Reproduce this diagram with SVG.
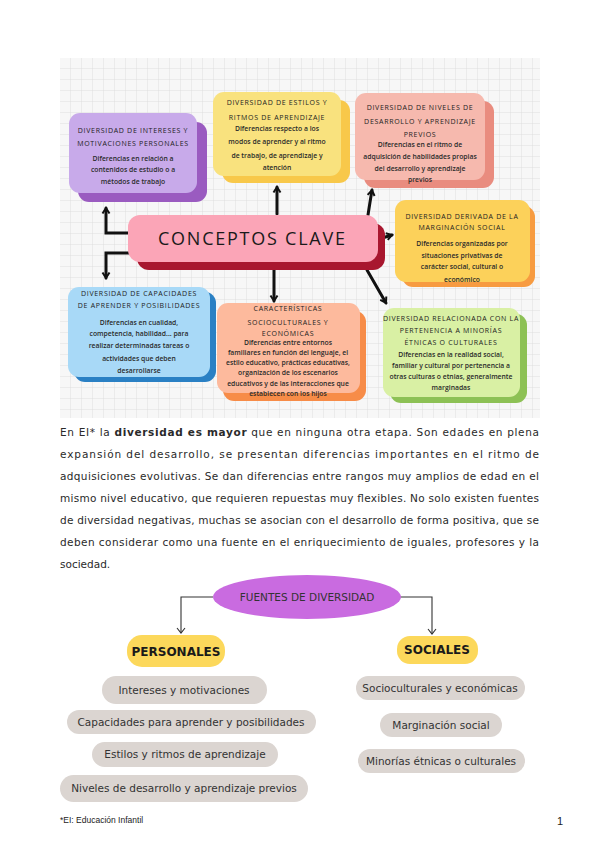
<svg xmlns="http://www.w3.org/2000/svg" width="600" height="848" viewBox="0 0 600 848">
<defs>
<pattern id="grid" x="60" y="58" width="11" height="11" patternUnits="userSpaceOnUse">
<rect width="11" height="11" fill="#f7f7f7"/>
<path d="M11 0 V11 M0 11 H11" stroke="#d8d8d8" stroke-width="0.8" fill="none"/>
</pattern>
<marker id="ah" markerUnits="userSpaceOnUse" markerWidth="10" markerHeight="10" refX="7" refY="5" orient="auto">
<path d="M1.5,1.5 L7,5 L1.5,8.5" stroke="#111" stroke-width="2" fill="none" stroke-linejoin="miter"/>
</marker>
<marker id="ah2" markerUnits="userSpaceOnUse" markerWidth="10" markerHeight="10" refX="6" refY="5" orient="auto">
<path d="M1,1 L6,5 L1,9" stroke="#333" stroke-width="1.1" fill="none"/>
</marker>
</defs>
<style>
.t{font-family:"Open Sans","DejaVu Sans",sans-serif;font-size:7px;letter-spacing:0.7px;fill:#222;text-anchor:middle}
.b{font-family:"Open Sans","DejaVu Sans",sans-serif;font-size:6.8px;font-weight:600;fill:#2a2a2a;text-anchor:middle}
.p{font-family:"DejaVu Sans",sans-serif;font-size:10.5px;fill:#2a2a2a}
.pill{fill:#dbd5d1}
.pt{font-family:"DejaVu Sans",sans-serif;font-size:10.5px;fill:#333;text-anchor:middle}
.cat{fill:#fcd85b}
.ct{font-family:"DejaVu Sans",sans-serif;font-size:12px;font-weight:bold;fill:#1a1a1a;text-anchor:middle}
.ar{stroke:#111;stroke-width:3;fill:none;stroke-linecap:round;marker-end:url(#ah)}
.ar2{stroke:#333;stroke-width:1.1;fill:none;marker-end:url(#ah2)}
</style>
<rect width="600" height="848" fill="#ffffff"/>
<rect x="60" y="58" width="480" height="360" fill="url(#grid)"/>

<g id="connectors">
<path class="ar" d="M277,214 L277,187"/>
<path class="ar" d="M274,262 L274,301"/>
<path class="ar" d="M137,233 L106,233 L106,208"/>
<path class="ar" d="M137,253 L106,253 L106,278"/>
<path class="ar" d="M368,215 Q370,202 372,190"/>
<path class="ar" d="M366,243 L392,235"/>
<path class="ar" d="M367,270 L386,303"/>
<path class="ar2" d="M213,597 L181,597 L181,633"/>
<path class="ar2" d="M400,597 L432,597 L432,634"/>
</g>

<g id="intereses">
<rect x="78" y="122" width="129" height="80" rx="11" fill="#9a5bc0"/>
<rect x="69" y="113" width="128" height="80" rx="11" fill="#c8aaea"/>
<text class="t" x="133" y="133">DIVERSIDAD DE INTERESES Y</text>
<text class="t" x="133" y="146">MOTIVACIONES PERSONALES</text>
<text class="b" x="133" y="161">Diferencias en relación a</text>
<text class="b" x="133" y="172">contenidos de estudio o a</text>
<text class="b" x="133" y="184">métodos de trabajo</text>
</g>

<g id="estilos">
<rect x="222" y="100" width="128" height="83" rx="11" fill="#f8c84a"/>
<rect x="213" y="92" width="128" height="84" rx="11" fill="#f9e27e"/>
<text class="t" x="277" y="105">DIVERSIDAD DE ESTILOS Y</text>
<text class="t" x="277" y="120">RITMOS DE APRENDIZAJE</text>
<text class="b" x="277" y="131">Diferencias respecto a los</text>
<text class="b" x="277" y="144">modos de aprender y al ritmo</text>
<text class="b" x="277" y="158">de trabajo, de aprendizaje y</text>
<text class="b" x="277" y="170">atención</text>
</g>

<g id="niveles">
<rect x="364" y="101" width="130" height="87" rx="11" fill="#e98c7f"/>
<rect x="355" y="93" width="130" height="87" rx="11" fill="#f6b9ae"/>
<text class="t" x="420" y="110">DIVERSIDAD DE NIVELES DE</text>
<text class="t" x="420" y="124">DESARROLLO Y APRENDIZAJE</text>
<text class="t" x="420" y="137">PREVIOS</text>
<text class="b" x="420" y="147">Diferencias en el ritmo de</text>
<text class="b" x="420" y="159">adquisición de habilidades propias</text>
<text class="b" x="420" y="171">del desarrollo y aprendizaje</text>
<text class="b" x="420" y="182">previos</text>
</g>

<g id="conceptos">
<rect x="137" y="223" width="248" height="47" rx="12" fill="#a8172f"/>
<rect x="128" y="215" width="250" height="47" rx="12" fill="#fba5b7"/>
<text x="253" y="245" font-family="Open Sans, DejaVu Sans, sans-serif" font-size="18" letter-spacing="3" fill="#1a1a1a" text-anchor="middle" textLength="190" lengthAdjust="spacing">CONCEPTOS CLAVE</text>
</g>

<g id="marginacion">
<rect x="402" y="206" width="133" height="81" rx="11" fill="#f79b41"/>
<rect x="395" y="200" width="135" height="82" rx="11" fill="#fcd15a"/>
<text class="t" x="462" y="219">DIVERSIDAD DERIVADA DE LA</text>
<text class="t" x="462" y="230">MARGINACIÓN SOCIAL</text>
<text class="b" x="462" y="246">Diferencias organizadas por</text>
<text class="b" x="462" y="258">situaciones privativas de</text>
<text class="b" x="462" y="269">carácter social, cultural o</text>
<text class="b" x="462" y="282">económico</text>
</g>

<g id="capacidades">
<rect x="74" y="292" width="142" height="90" rx="11" fill="#2a80c4"/>
<rect x="68" y="287" width="142" height="90" rx="11" fill="#a8d9f7"/>
<text class="t" x="139" y="296">DIVERSIDAD DE CAPACIDADES</text>
<text class="t" x="139" y="308">DE APRENDER Y POSIBILIDADES</text>
<text class="b" x="139" y="325">Diferencias en cualidad,</text>
<text class="b" x="139" y="336">competencia, habilidad... para</text>
<text class="b" x="139" y="348">realizar determinadas tareas o</text>
<text class="b" x="139" y="361">actividades que deben</text>
<text class="b" x="139" y="373">desarrollarse</text>
</g>

<g id="socioculturales">
<rect x="223" y="311" width="143" height="90" rx="11" fill="#f78c48"/>
<rect x="217" y="303" width="143" height="90" rx="11" fill="#fdba9d"/>
<text class="t" x="288" y="311">CARACTERÍSTICAS</text>
<text class="t" x="288" y="325">SOCIOCULTURALES Y</text>
<text class="t" x="288" y="336">ECONÓMICAS</text>
<text class="b" x="288" y="345" font-size="6.4">Diferencias entre entornos</text>
<text class="b" x="288" y="355" font-size="6.4">familiares en función del lenguaje, el</text>
<text class="b" x="288" y="365" font-size="6.4">estilo educativo, prácticas educativas,</text>
<text class="b" x="288" y="375" font-size="6.4">organización de los escenarios</text>
<text class="b" x="288" y="386" font-size="6.4">educativos y de las interacciones que</text>
<text class="b" x="288" y="396" font-size="6.4">establecen con los hijos</text>
</g>

<g id="minorias">
<rect x="390" y="314" width="137" height="89" rx="11" fill="#8dc155"/>
<rect x="383" y="308" width="137" height="89" rx="11" fill="#d9f0a4"/>
<text class="t" x="451" y="321" letter-spacing="0.4">DIVERSIDAD RELACIONADA CON LA</text>
<text class="t" x="451" y="333">PERTENENCIA A MINORÍAS</text>
<text class="t" x="451" y="345">ÉTNICAS O CULTURALES</text>
<text class="b" x="451" y="357" font-size="6.4">Diferencias en la realidad social,</text>
<text class="b" x="451" y="368" font-size="6.4">familiar y cultural por pertenencia a</text>
<text class="b" x="451" y="379" font-size="6.4">otras culturas o etnias, generalmente</text>
<text class="b" x="451" y="390" font-size="6.4">marginadas</text>
</g>

<g id="parrafo">
<text class="p" x="60" y="436" textLength="479" lengthAdjust="spacing">En EI* la <tspan font-weight="bold">diversidad es mayor</tspan> que en ninguna otra etapa. Son edades en plena</text>
<text class="p" x="60" y="458" textLength="479" lengthAdjust="spacing">expansión del desarrollo, se presentan diferencias importantes en el ritmo de</text>
<text class="p" x="60" y="480" textLength="479" lengthAdjust="spacing">adquisiciones evolutivas. Se dan diferencias entre rangos muy amplios de edad en el</text>
<text class="p" x="60" y="502" textLength="479" lengthAdjust="spacing">mismo nivel educativo, que requieren repuestas muy flexibles. No solo existen fuentes</text>
<text class="p" x="60" y="524" textLength="479" lengthAdjust="spacing">de diversidad negativas, muchas se asocian con el desarrollo de forma positiva, que se</text>
<text class="p" x="60" y="546" textLength="479" lengthAdjust="spacing">deben considerar como una fuente en el enriquecimiento de iguales, profesores y la</text>
<text class="p" x="60" y="568">sociedad.</text>
</g>

<g id="fuentes">
<ellipse cx="307" cy="597" rx="94" ry="22" fill="#c96be0"/>
<text class="pt" x="307" y="601" fill="#333">FUENTES DE DIVERSIDAD</text>
</g>

<g id="personales">
<rect class="cat" x="127" y="635" width="98" height="32" rx="15"/>
<text class="ct" x="176" y="656">PERSONALES</text>
</g>
<g id="sociales">
<rect class="cat" x="397" y="636" width="81" height="28" rx="13"/>
<text class="ct" x="437" y="654">SOCIALES</text>
</g>

<g id="p1"><rect class="pill" x="102" y="676" width="165" height="28" rx="14"/><text class="pt" x="184" y="694">Intereses y motivaciones</text></g>
<g id="p2"><rect class="pill" x="67" y="710" width="249" height="24" rx="12"/><text class="pt" x="191" y="726">Capacidades para aprender y posibilidades</text></g>
<g id="p3"><rect class="pill" x="92" y="742" width="186" height="25" rx="12.5"/><text class="pt" x="185" y="758">Estilos y ritmos de aprendizaje</text></g>
<g id="p4"><rect class="pill" x="60" y="775" width="248" height="27" rx="13.5"/><text class="pt" x="184" y="792">Niveles de desarrollo y aprendizaje previos</text></g>
<g id="s1"><rect class="pill" x="356" y="676" width="169" height="24" rx="12"/><text class="pt" x="440" y="692">Socioculturales y económicas</text></g>
<g id="s2"><rect class="pill" x="380" y="713" width="122" height="24" rx="12"/><text class="pt" x="441" y="729">Marginación social</text></g>
<g id="s3"><rect class="pill" x="358" y="749" width="167" height="24" rx="12"/><text class="pt" x="441" y="765">Minorías étnicas o culturales</text></g>

<g id="footer">
<text x="60" y="823" font-family="Liberation Sans, sans-serif" font-size="8.5" fill="#222">*EI: Educación Infantil</text>
<text x="557" y="825" font-family="Liberation Sans, sans-serif" font-size="11" fill="#222">1</text>
</g>
</svg>
